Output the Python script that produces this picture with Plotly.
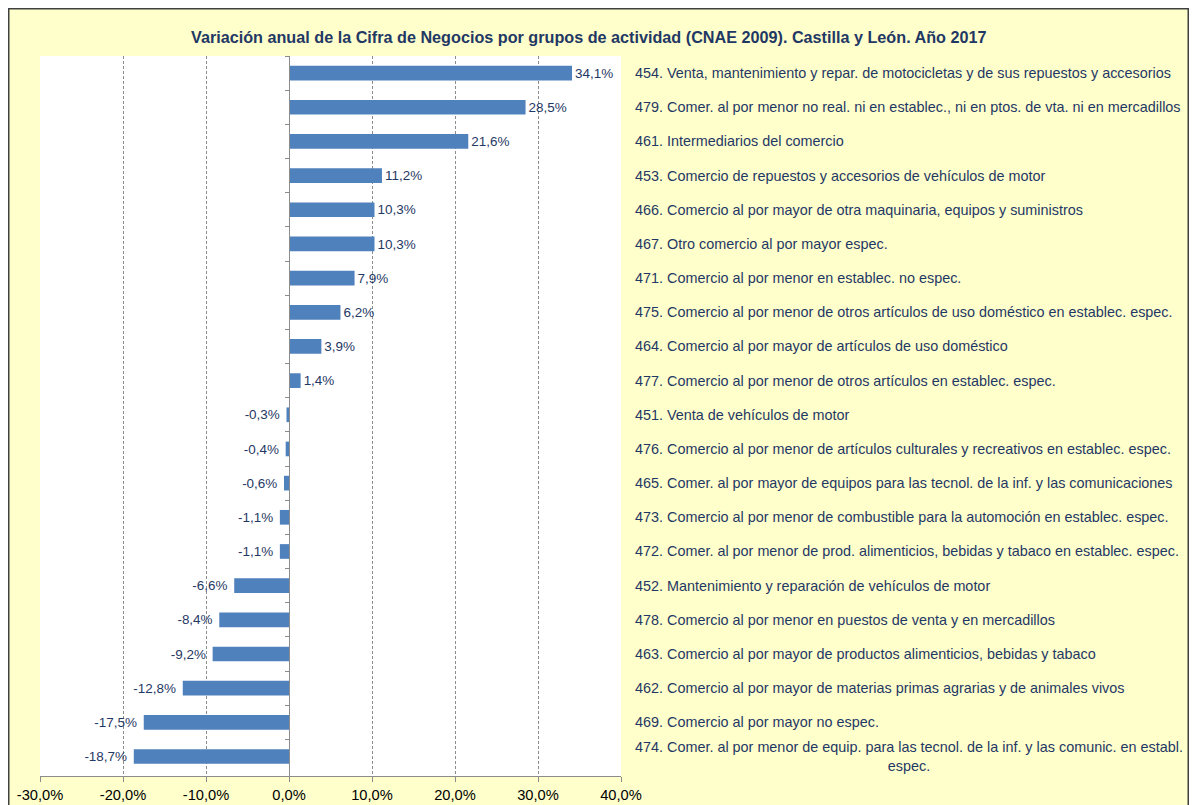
import plotly.graph_objects as go

categories = [
    "454. Venta, mantenimiento y repar. de motocicletas y de sus repuestos y accesorios",
    "479. Comer. al por menor no real. ni en establec., ni en ptos. de vta. ni en mercadillos",
    "461. Intermediarios del comercio",
    "453. Comercio de repuestos y accesorios de vehículos de motor",
    "466. Comercio al por mayor de otra maquinaria, equipos y suministros",
    "467. Otro comercio al por mayor espec.",
    "471. Comercio al por menor en establec. no espec.",
    "475. Comercio al por menor de otros artículos de uso doméstico en establec. espec.",
    "464. Comercio al por mayor de artículos de uso doméstico",
    "477. Comercio al por menor de otros artículos en establec. espec.",
    "451. Venta de vehículos de motor",
    "476. Comercio al por menor de artículos culturales y recreativos en establec. espec.",
    "465. Comer. al por mayor de equipos para las tecnol. de la inf. y las comunicaciones",
    "473. Comercio al por menor de combustible para la automoción en establec. espec.",
    "472. Comer. al por menor de prod. alimenticios, bebidas y tabaco en establec. espec.",
    "452. Mantenimiento y reparación de vehículos de motor",
    "478. Comercio al por menor en puestos de venta y en mercadillos",
    "463. Comercio al por mayor de productos alimenticios, bebidas y tabaco",
    "462. Comercio al por mayor de materias primas agrarias y de animales vivos",
    "469. Comercio al por mayor no espec.",
    "474. Comer. al por menor de equip. para las tecnol. de la inf. y las comunic. en establ.<br>espec.",
]
values = [34.1, 28.5, 21.6, 11.2, 10.3, 10.3, 7.9, 6.2, 3.9, 1.4,
          -0.3, -0.4, -0.6, -1.1, -1.1, -6.6, -8.4, -9.2, -12.8, -17.5, -18.7]
tick_values = [-30, -20, -10, 0, 10, 20, 30, 40]

title = "Variación anual de la Cifra de Negocios por grupos de actividad (CNAE 2009). Castilla y León. Año 2017"

def fmt(v):
    return ("%.1f" % v).replace(".", ",") + "%"

def bar_label(v):
    # a little extra padding between negative bars and their labels
    return fmt(v) + ("\u00a0" if v < 0 else "")

W, H = 1181, 797
ML, MR, MT, MB = 32, 568, 48, 29
pw = W - ML - MR
ph = H - MT - MB
XMIN, XMAX = tick_values[0], tick_values[-1]

NAVY = "#1F3864"
FONT = "Liberation Sans, Arial, sans-serif"
FS = 14.67
FS_LAB = 14.4

fig = go.Figure()
fig.add_trace(go.Bar(
    y=categories, x=values, orientation="h",
    marker=dict(color="#4F81BD", line=dict(width=0)),
    text=[bar_label(v) for v in values], textposition="outside",
    textfont=dict(family=FONT, size=FS, color=NAVY),
    cliponaxis=False, width=0.43,
))

annotations = []
for c in categories:
    annotations.append(dict(
        x=1.0, xref="paper", xshift=12, y=c, yref="y",
        text=c, showarrow=False, xanchor="left", align="center",
        font=dict(family=FONT, size=FS_LAB, color=NAVY),
    ))
annotations.append(dict(
    x=(581 - ML) / pw, xref="paper", y=(H - MB - 29) / ph, yref="paper",
    text="<b>" + title + "</b>", showarrow=False, xanchor="center", yanchor="middle",
    font=dict(family=FONT, size=16.2, color=NAVY),
))

zero_pos = (0 - XMIN) / (XMAX - XMIN)

fig.update_layout(
    width=W, height=H,
    margin=dict(l=ML, r=MR, t=MT, b=MB, autoexpand=False),
    paper_bgcolor="#FFFFCC", plot_bgcolor="white",
    showlegend=False,
    separators=",.",
    font=dict(family=FONT, size=FS, color="#000000"),
    xaxis=dict(
        range=[XMIN, XMAX], tickvals=tick_values,
        ticktext=[fmt(v) for v in tick_values],
        showgrid=True, gridcolor="#8C8C8C", griddash="3px,2px", gridwidth=1,
        zeroline=False, showline=True, linecolor="#8C8C8C", linewidth=1,
        ticks="outside", ticklen=5, tickcolor="#8C8C8C",
        tickfont=dict(family=FONT, size=FS, color="#000000"),
        domain=[0, 1],
    ),
    yaxis=dict(
        type="category", autorange="reversed",
        anchor="free", position=zero_pos,
        showline=True, linecolor="#8C8C8C", linewidth=1,
        ticks="outside", ticklen=4, tickcolor="#8C8C8C", tickson="boundaries",
        showticklabels=False, showgrid=False, zeroline=False,
    ),
    annotations=annotations,
    shapes=[dict(
        type="rect", xref="paper", yref="paper",
        x0=(0.75 - ML) / pw, x1=(W - 0.75 - ML) / pw,
        y0=(H - MB - H - 10) / ph, y1=(H - MB - 0.75) / ph,
        fillcolor="rgba(0,0,0,0)", line=dict(color="#404040", width=1.5), layer="above",
    )],
    bargap=0.57,
)

fig.write_html("out.html")
